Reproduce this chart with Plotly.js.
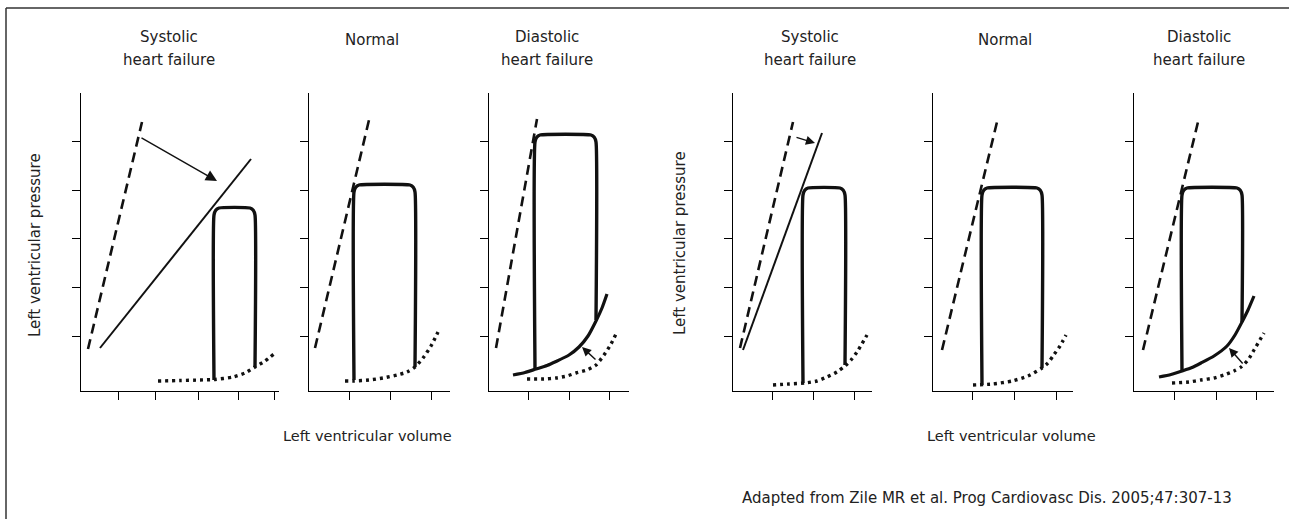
<!DOCTYPE html>
<html>
<head>
<meta charset="utf-8">
<script src="https://cdn.plot.ly/plotly-3.0.1.min.js"></script>
<style>html,body{margin:0;padding:0;background:#fff;}#chart{width:1289px;height:519px;}</style>
</head>
<body>
<div id="chart"></div>
<script>
// ---------- data (volume / pressure in arbitrary units) ----------
const panelTitles = ["Systolic\nheart failure", "Normal", "Diastolic\nheart failure",
                     "Systolic\nheart failure", "Normal", "Diastolic\nheart failure"];
const volumeAxisMax = [198, 141, 140, 139, 140, 140];
const pressureAxisMax = 298;
const volumeTicks = [[37, 74, 117, 157, 193], [40, 81, 122], [39, 80, 120],
                     [39, 80, 121], [39, 81, 123], [40, 82, 122]];
const pressureTicks = [55, 104, 153, 201, 250];

// normal end-systolic pressure-volume relation (dashed)
const normalEspvrVol = [[7, 61], [6, 60], [7, 48], [7, 60], [9, 64], [9, 64]];
const normalEspvrPres = [[42, 269], [43, 271], [43, 272], [43, 269], [41, 269], [41, 269]];

// depressed ESPVR in systolic heart failure (solid thin)
const systolicEspvrVol = { 0: [19, 170], 3: [10, 89] };
const systolicEspvrPres = { 0: [43, 232], 3: [41, 258] };

// pressure-volume loops
const loopEsv = [133, 45, 46, 70, 49, 48];
const loopEdv = [174, 106, 107, 112, 109, 108];
const loopTopPres = [183, 206, 256, 203, 203, 203];
const loopEsBottomPres = [11, 11, 22, 8, 6, 20];
const loopEdBottomPres = [24, 24, 71, 26, 23, 69];

// normal end-diastolic pressure-volume relation (dotted)
const edpvrVol = [[77, 99, 119, 133, 152, 164, 174, 184, 193],
                  [36, 45, 60, 74, 88, 98, 106, 114, 122, 129],
                  [38, 55, 67, 78, 87, 98, 107, 115, 122, 128],
                  [40, 56, 72, 84, 94, 104, 112, 118, 124, 134],
                  [40, 60, 79, 95, 109, 115, 120, 127, 133],
                  [38, 55, 67, 80, 90, 100, 107, 114, 120, 130]];
const edpvrPres = [[10, 10.5, 11, 11.5, 14, 18, 24, 30, 37],
                   [10, 10, 11, 13, 16, 19, 24, 33, 45, 59],
                   [12, 12, 13, 15, 18, 21, 26, 36, 47, 59],
                   [6, 7, 8, 10, 14, 19, 25, 31, 39, 56],
                   [6, 7, 10, 15, 23, 28, 35, 45, 56],
                   [8, 9, 11, 13, 16, 20, 24, 31, 41, 58]];

// stiff EDPVR in diastolic heart failure (solid thick)
const diastolicEdpvrVol = { 2: [24, 36, 47, 58, 67, 80, 90, 99, 107, 113, 118],
                            5: [25, 37, 48, 58, 67, 80, 93, 101, 108, 114, 120] };
const diastolicEdpvrPres = { 2: [16, 18.5, 22, 25.5, 29.5, 36, 44, 55, 70, 83, 97],
                             5: [14, 16.5, 20, 23.5, 28, 35, 45, 56, 69, 81, 95] };

// arrows: [tailVol, tailPres, headVol, headPres]
const shiftArrows = { 0: [59, 254, 136, 210], 3: [62, 254, 82, 248],
                      2: [108, 30, 93, 44], 5: [110, 26, 95, 43] };

const pressureLabel = "Left ventricular pressure";
const volumeLabel = "Left ventricular volume";
const sourceNote = "Adapted from Zile MR et al. Prog Cardiovasc Dis. 2005;47:307-13";

// ---------- layout ----------
const W = 1289, H = 519;
const panelPx = [[81, 279], [309, 450], [489, 629], [733, 872], [933, 1073], [1134, 1274]];
const plotTop = 93, plotBottom = 391;
const FONT = "DejaVu Sans";
const INK = "#111";
const TXT = "#222";
const px = v => v / W;
const py = v => 1 - v / H;

const traces = [];
const annotations = [];
const layout = {
  width: W, height: H,
  margin: { l: 0, r: 0, t: 0, b: 0 },
  paper_bgcolor: "#fff", plot_bgcolor: "rgba(0,0,0,0)",
  showlegend: false,
  font: { family: FONT, size: 15, color: TXT },
  annotations: annotations,
  shapes: [
    { type: "line", xref: "paper", yref: "paper", x0: px(6), y0: py(519), x1: px(6), y1: py(8),
      line: { color: "#333", width: 1.5 } },
    { type: "line", xref: "paper", yref: "paper", x0: px(6), y0: py(8), x1: 1, y1: py(8),
      line: { color: "#333", width: 1.5 } }
  ]
};

const R = 5; // corner rounding of loops
for (let i = 0; i < 6; i++) {
  const xa = i === 0 ? "x" : "x" + (i + 1);
  const ya = i === 0 ? "y" : "y" + (i + 1);
  const xk = i === 0 ? "xaxis" : "xaxis" + (i + 1);
  const yk = i === 0 ? "yaxis" : "yaxis" + (i + 1);
  layout[xk] = {
    domain: [px(panelPx[i][0]), px(panelPx[i][1])], anchor: ya,
    range: [0, volumeAxisMax[i]], showgrid: false, zeroline: false,
    showline: true, linecolor: "#000", linewidth: 1,
    ticks: "outside", ticklen: 8, tickwidth: 1, tickcolor: "#000",
    tickmode: "array", tickvals: volumeTicks[i], showticklabels: false, fixedrange: true
  };
  layout[yk] = {
    domain: [py(plotBottom), py(plotTop)], anchor: xa,
    range: [0, pressureAxisMax], showgrid: false, zeroline: false,
    showline: true, linecolor: "#000", linewidth: 1,
    ticks: "outside", ticklen: 8, tickwidth: 1, tickcolor: "#000",
    tickmode: "array", tickvals: pressureTicks, showticklabels: false, fixedrange: true
  };

  // normal ESPVR dashed
  traces.push({ x: normalEspvrVol[i], y: normalEspvrPres[i], xaxis: xa, yaxis: ya,
    mode: "lines", line: { color: INK, width: 2.6, dash: "10px,6px" }, hoverinfo: "skip" });

  // systolic HF ESPVR
  if (systolicEspvrVol[i]) {
    traces.push({ x: systolicEspvrVol[i], y: systolicEspvrPres[i], xaxis: xa, yaxis: ya,
      mode: "lines", line: { color: INK, width: 2 }, hoverinfo: "skip" });
  }

  // dotted normal EDPVR
  traces.push({ x: edpvrVol[i], y: edpvrPres[i], xaxis: xa, yaxis: ya,
    mode: "lines", line: { color: INK, width: 3.4, dash: "3px,4px", shape: "spline", smoothing: 0.6 },
    hoverinfo: "skip" });

  // diastolic HF EDPVR
  if (diastolicEdpvrVol[i]) {
    traces.push({ x: diastolicEdpvrVol[i], y: diastolicEdpvrPres[i], xaxis: xa, yaxis: ya,
      mode: "lines", line: { color: INK, width: 3.2, shape: "spline", smoothing: 0.6 }, hoverinfo: "skip" });
  }

  // PV loop (open at the bottom, where the EDPVR runs)
  const es = loopEsv[i], ed = loopEdv[i], top = loopTopPres[i];
  traces.push({
    x: [es, es, es + R * 0.35, es + R, ed - R, ed - R * 0.35, ed, ed],
    y: [loopEsBottomPres[i], top - R * 1.4, top - R * 0.45, top, top, top - R * 0.45, top - R * 1.4, loopEdBottomPres[i]],
    xaxis: xa, yaxis: ya, mode: "lines",
    line: { color: INK, width: 3.4, shape: "spline", smoothing: 0.5 }, hoverinfo: "skip"
  });

  // arrows
  if (shiftArrows[i]) {
    const a = shiftArrows[i];
    annotations.push({ xref: xa, yref: ya, axref: xa, ayref: ya,
      ax: a[0], ay: a[1], x: a[2], y: a[3], text: "", showarrow: true,
      arrowhead: 2, arrowsize: i === 0 ? 1.6 : 1.3, arrowwidth: 1.4, arrowcolor: INK, standoff: 0 });
  }
}

// panel titles (one annotation per text line)
const titleCx = [169, 372, 547, 810, 1005, 1199];
panelTitles.forEach((t, i) => {
  const lines = t.split("\n");
  lines.forEach((ln, k) => {
    const cy = lines.length === 1 ? 40 : (k === 0 ? 37 : 60);
    annotations.push({ xref: "paper", yref: "paper", x: px(titleCx[i]), y: py(cy),
      xanchor: "center", yanchor: "middle", showarrow: false, text: ln,
      font: { family: FONT, size: 15, color: TXT } });
  });
});

// axis labels
[[35, 245], [680, 243]].forEach(p => annotations.push({
  xref: "paper", yref: "paper", x: px(p[0]), y: py(p[1]), xanchor: "center", yanchor: "middle",
  textangle: -90, showarrow: false, text: pressureLabel, font: { family: FONT, size: 15, color: TXT } }));
[[367, 436], [1011, 436]].forEach(p => annotations.push({
  xref: "paper", yref: "paper", x: px(p[0]), y: py(p[1]), xanchor: "center", yanchor: "middle",
  showarrow: false, text: volumeLabel, font: { family: FONT, size: 14.5, color: TXT } }));

annotations.push({ xref: "paper", yref: "paper", x: px(740), y: py(498), xanchor: "left", yanchor: "middle",
  showarrow: false, text: sourceNote, font: { family: FONT, size: 15, color: TXT } });

Plotly.newPlot("chart", traces, layout, { staticPlot: true, displayModeBar: false });
</script>
</body>
</html>
